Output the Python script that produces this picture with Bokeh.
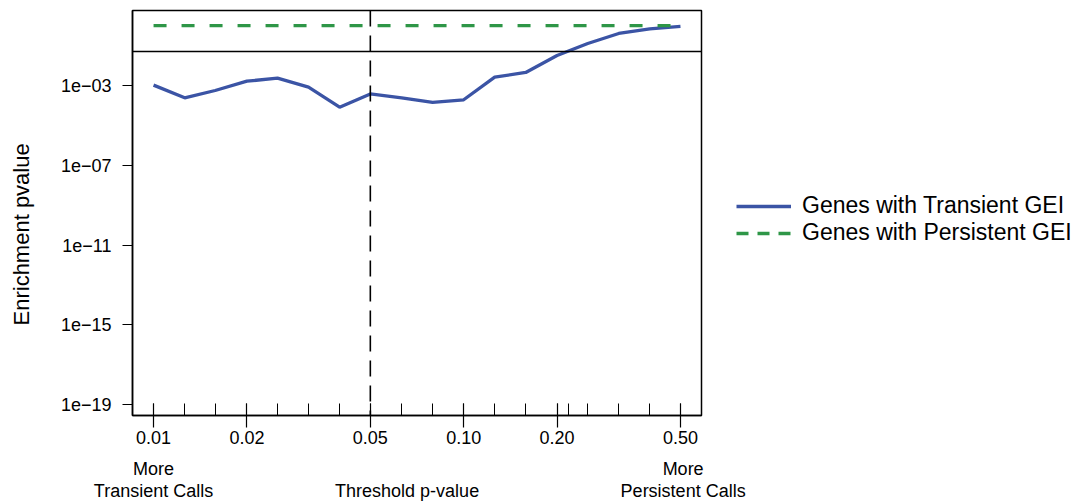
from bokeh.plotting import figure
from bokeh.models import (Span, Legend, LegendItem, FixedTicker, LogAxis,
                          PrintfTickFormatter, CustomJSTickFormatter, Range1d)
from bokeh.embed import file_html
from bokeh.resources import INLINE

# ---- data ----
thresholds = [0.0100, 0.0126, 0.0158, 0.0200, 0.0251, 0.0316, 0.0398, 0.0500, 0.0631,
              0.0794, 0.1000, 0.1259, 0.1585, 0.2000, 0.2512, 0.3162, 0.3981, 0.5000]
transient_p = [1.04e-3, 2.42e-4, 5.6e-4, 1.64e-3, 2.32e-3, 8.2e-4, 8.2e-5, 3.75e-4, 2.42e-4,
               1.41e-4, 1.92e-4, 2.61e-3, 4.48e-3, 3.18e-2, 0.127, 0.403, 0.693, 0.904]
persistent_p = [1.0] * 18
x_major = [0.01, 0.02, 0.05, 0.10, 0.20, 0.50]
x_minor = thresholds + [0.218]
y_major = [1e-19, 1e-15, 1e-11, 1e-7, 1e-3]
sig_level = 0.05
threshold_p = 0.05
note_row1_x = [0.0100, 0.5100]                 # "More"
note_row2_x = [0.0100, 0.0657, 0.5100]         # call descriptions

FONT = "Liberation Sans"
BLUE = "#3B54A5"
GREEN = "#2E9647"

p = figure(frame_width=569, frame_height=405, min_border_left=132, min_border_right=382,
           min_border_top=10, min_border_bottom=87,
           x_axis_type="log", y_axis_type="log",
           x_range=Range1d(0.008553, 0.5845), y_range=Range1d(2.91e-20, 5.71),
           output_backend="svg", toolbar_location=None)
p.xgrid.visible = False
p.ygrid.visible = False
p.outline_line_color = "black"
p.outline_line_width = 1.5
p.background_fill_color = "white"
p.border_fill_color = "white"

# x axis
xa = p.xaxis[0]
xa.ticker = FixedTicker(ticks=x_major, minor_ticks=x_minor)
xa.formatter = PrintfTickFormatter(format="%.2f")
xa.major_tick_in = 12
xa.major_tick_out = 12
xa.minor_tick_in = 12
xa.minor_tick_out = 0
xa.major_tick_line_width = 1.2
xa.minor_tick_line_width = 1
xa.axis_line_width = 1.5
xa.major_label_standoff = 3
xa.major_label_text_font = FONT
xa.major_label_text_font_size = "18px"
xa.major_label_text_color = "black"

def note_axis(ticks, code, standoff):
    ax = LogAxis(ticker=FixedTicker(ticks=ticks),
                 formatter=CustomJSTickFormatter(code=code))
    ax.axis_line_color = None
    ax.major_tick_line_color = None
    ax.minor_tick_line_color = None
    ax.major_tick_in = 0
    ax.major_tick_out = 0
    ax.minor_tick_in = 0
    ax.minor_tick_out = 0
    ax.major_label_standoff = standoff
    ax.major_label_text_font = FONT
    ax.major_label_text_font_size = "18px"
    ax.major_label_text_color = "black"
    p.add_layout(ax, "below")

note_axis(note_row1_x, "return 'More';", 12)
note_axis(note_row2_x, """
if (tick < 0.02) return 'Transient Calls';
if (tick < 0.2) return 'Threshold p-value';
return 'Persistent Calls';
""", -1)

# y axis
ya = p.yaxis[0]
ya.ticker = FixedTicker(ticks=y_major)
ya.formatter = CustomJSTickFormatter(code="""
const e = Math.round(Math.log10(tick));
const s = Math.abs(e).toString().padStart(2, '0');
return '1e' + (e < 0 ? '\u2212' : '+') + s;
""")
ya.major_tick_in = 0
ya.major_tick_out = 10
ya.minor_tick_in = 0
ya.minor_tick_out = 0
ya.major_tick_line_width = 1.2
ya.axis_line_width = 1.5
ya.major_label_standoff = 11
ya.major_label_text_font = FONT
ya.major_label_text_font_size = "18px"
ya.major_label_text_color = "black"
# trailing no-break spaces shift the visible label slightly down the axis, as in the reference
ya.axis_label = "Enrichment pvalue" + "\u00a0" * 7
ya.axis_label_text_font = FONT
ya.axis_label_text_font_size = "22px"
ya.axis_label_text_font_style = "normal"
ya.axis_label_text_color = "black"
ya.axis_label_standoff = 24

# reference lines
p.add_layout(Span(location=sig_level, dimension="width", line_color="black", line_width=1.5))
p.add_layout(Span(location=threshold_p, dimension="height", line_color="black",
                  line_width=1.6, line_dash="16 9"))

r1 = p.line(thresholds, transient_p, line_color=BLUE, line_width=3.3)
r2 = p.line(thresholds, persistent_p, line_color=GREEN, line_width=3.3, line_dash="13 15")
# legend swatch for the dashed series (shorter dash period, as in the reference key);
# a single undefined point, so it draws nothing in the plot area
r2_key = p.line([thresholds[0]], [float("nan")], line_color=GREEN, line_width=3.3,
                line_dash="12 9")

legend = Legend(items=[LegendItem(label="Genes with Transient GEI", renderers=[r1]),
                       LegendItem(label="Genes with Persistent GEI", renderers=[r2_key])],
                location=(35, 169), orientation="vertical",
                glyph_width=55, glyph_height=26, label_height=26, label_standoff=11,
                spacing=0, padding=0, margin=0,
                label_text_font=FONT, label_text_font_size="23px",
                label_text_color="black",
                border_line_color=None, background_fill_alpha=0)
p.add_layout(legend, "right")

open("out.html", "w").write(file_html(p, INLINE))
